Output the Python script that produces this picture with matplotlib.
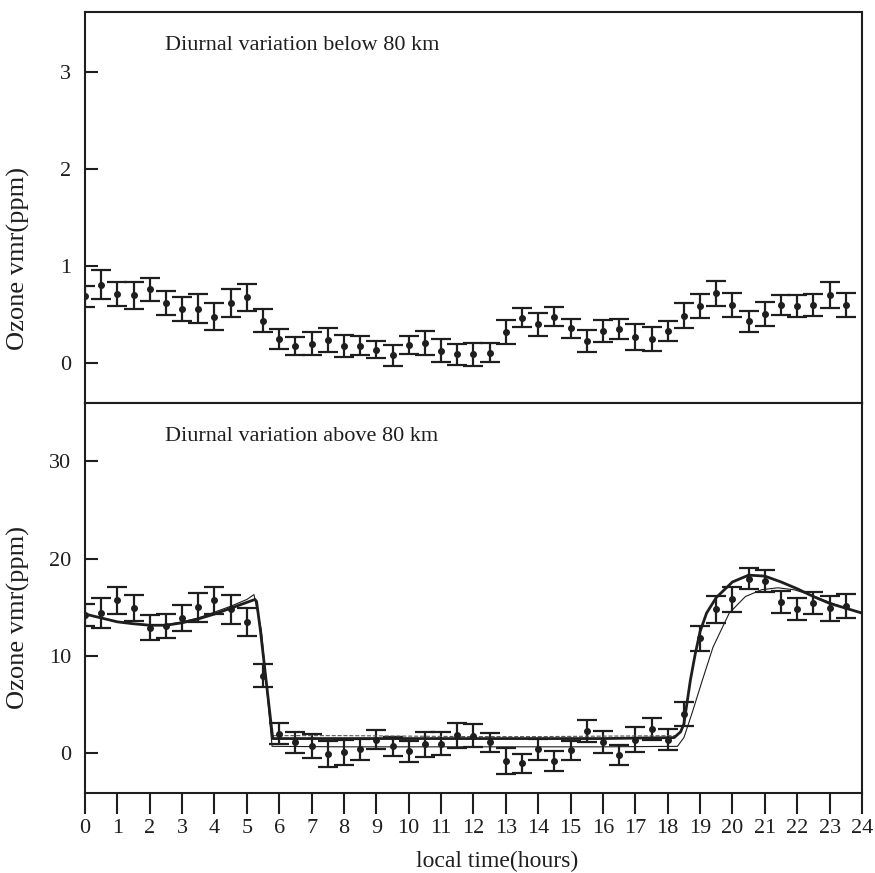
import matplotlib
matplotlib.use("Agg")
import matplotlib.pyplot as plt
import numpy as np

plt.rcParams['font.family'] = ['Liberation Serif', 'DejaVu Serif']

# local time of the measurements (every half hour)
hours = np.arange(0, 24, 0.5)

# below 80 km
low_vmr = [0.69, 0.81, 0.71, 0.70, 0.76, 0.62, 0.56, 0.56, 0.48, 0.62, 0.68, 0.44,
           0.25, 0.18, 0.20, 0.24, 0.18, 0.18, 0.14, 0.08, 0.19, 0.21, 0.13, 0.09,
           0.09, 0.11, 0.32, 0.47, 0.40, 0.48, 0.36, 0.23, 0.33, 0.35, 0.27, 0.25,
           0.33, 0.49, 0.59, 0.72, 0.60, 0.43, 0.51, 0.60, 0.59, 0.60, 0.70, 0.60]
low_err = [0.11, 0.15, 0.125, 0.14, 0.12, 0.12, 0.125, 0.15, 0.14, 0.145, 0.14, 0.12,
           0.10, 0.095, 0.12, 0.125, 0.115, 0.10, 0.09, 0.105, 0.095, 0.125, 0.12, 0.11,
           0.115, 0.095, 0.125, 0.10, 0.115, 0.10, 0.10, 0.115, 0.115, 0.105, 0.135, 0.12,
           0.10, 0.13, 0.12, 0.13, 0.12, 0.11, 0.125, 0.105, 0.115, 0.11, 0.135, 0.12]

# above 80 km
high_vmr = [14.2, 14.4, 15.7, 14.9, 12.9, 13.1, 13.9, 15.0, 15.7, 14.8, 13.5, 7.95,
            2.0, 1.1, 0.75, -0.1, 0.07, 0.4, 1.4, 0.7, 0.2, 0.9, 0.96, 1.85,
            1.8, 1.1, -0.8, -1.06, 0.38, -0.8, 0.3, 2.26, 1.13, -0.2, 1.4, 2.5,
            1.4, 4.0, 11.8, 14.8, 15.8, 17.95, 17.7, 15.55, 14.8, 15.45, 14.9, 15.1]
high_err = [1.1, 1.5, 1.35, 1.35, 1.3, 1.25, 1.35, 1.5, 1.4, 1.5, 1.45, 1.2,
            1.05, 1.05, 1.25, 1.3, 1.3, 1.1, 0.95, 1.0, 1.1, 1.3, 1.2, 1.3,
            1.2, 1.0, 1.3, 1.0, 1.1, 1.0, 1.0, 1.1, 1.15, 1.05, 1.3, 1.15,
            1.05, 1.25, 1.3, 1.4, 1.25, 1.1, 1.15, 1.1, 1.1, 1.1, 1.3, 1.25]

# model curves
model1_t = [0, 0.5, 1, 1.5, 2, 2.5, 3, 3.5, 4, 4.5, 5, 5.25, 5.3, 5.42, 5.8,
            8, 12, 16, 18.2, 18.4, 18.5, 18.7, 18.85, 19.0, 19.2, 19.5, 20.0,
            20.5, 21.0, 21.5, 22.0, 22.5, 23.0, 23.5, 24]
model1_v = [14.3, 13.9, 13.5, 13.3, 13.15, 13.15, 13.4, 13.8, 14.3, 14.9, 15.5, 15.8, 15.6, 12.6, 1.5,
            1.5, 1.5, 1.5, 1.6, 2.2, 3.0, 7.5, 10.2, 12.5, 14.4, 16.0, 17.6,
            18.3, 18.2, 17.6, 16.9, 16.1, 15.4, 14.9, 14.4]
model2_t = [0, 0.5, 1, 1.5, 2, 2.5, 3, 3.5, 4, 4.5, 5, 5.22, 5.45, 5.78,
            8, 12, 16, 18.3, 18.5, 18.75, 19.07, 19.4, 19.9, 20.4, 20.9, 21.4,
            21.9, 22.4, 23.0, 23.5, 24]
model2_v = [14.3, 13.9, 13.5, 13.3, 13.2, 13.2, 13.5, 13.9, 14.5, 15.1, 15.8, 16.3, 12.6, 0.7,
            0.65, 0.65, 0.65, 0.7, 1.6, 4.1, 7.5, 10.9, 14.4, 16.1, 16.8, 17.0,
            16.8, 16.3, 15.5, 14.9, 14.4]
model3_t = [5.8, 8, 10, 12, 14, 16, 18.3]
model3_v = [1.8, 1.8, 1.75, 1.7, 1.7, 1.75, 1.8]

ink = '#1e1e1e'

fig = plt.figure(figsize=(8.75, 8.73), dpi=100)
ax1 = fig.add_axes([0.0971, 0.5384, 0.888, 0.4479])
ax2 = fig.add_axes([0.0971, 0.0916, 0.888, 0.4468])

ebkw = dict(fmt='o', color=ink, ms=4, elinewidth=1.6, capsize=7, capthick=1.6)

ax1.errorbar(hours, low_vmr, yerr=low_err, **ebkw)
ax2.errorbar(hours, high_vmr, yerr=high_err, **ebkw)
ax2.plot(model3_t, model3_v, color='#555555', lw=0.8, ls='--')
ax2.plot(model2_t, model2_v, color=ink, lw=0.8)
ax2.plot(model1_t, model1_v, color=ink, lw=2.0)

ax1.set_ylim(-0.41, 3.62)
ax2.set_ylim(-4.1, 36)
for ax in (ax1, ax2):
    ax.set_xlim(0, 24)
    for s in ax.spines.values():
        s.set_linewidth(1.5)
        s.set_color(ink)
    ax.tick_params(axis='y', direction='in', length=9, width=1.5, labelsize=16, pad=10, colors=ink)

ax1.set_ylabel("Ozone vmr(ppm)", fontsize=19, color=ink)
ax1.yaxis.set_label_coords(-0.071, 0.37)
ax2.set_ylabel("Ozone vmr(ppm)", fontsize=19, color=ink)
ax2.yaxis.set_label_coords(-0.071, 0.45)

ax1.set_yticks([0, 1, 2, 3])
ax1.set_xticks([])
ax2.set_yticks([0, 10, 20, 30])
ax2.set_xticks(range(0, 25))
ax2.tick_params(axis='x', direction='out', length=15, width=1.5, labelsize=16, pad=4, colors=ink)
ax2.set_xlabel("local time(hours)", fontsize=17, color=ink, va='center')
ax2.xaxis.set_label_coords(0.53, -0.176)

ax1.text(0.103, 0.915, "Diurnal variation below 80 km", transform=ax1.transAxes,
         fontsize=16, color=ink, va='center')
ax2.text(0.103, 0.913, "Diurnal variation above 80 km", transform=ax2.transAxes,
         fontsize=16, color=ink, va='center')

fig.savefig("out.png", dpi=100)
